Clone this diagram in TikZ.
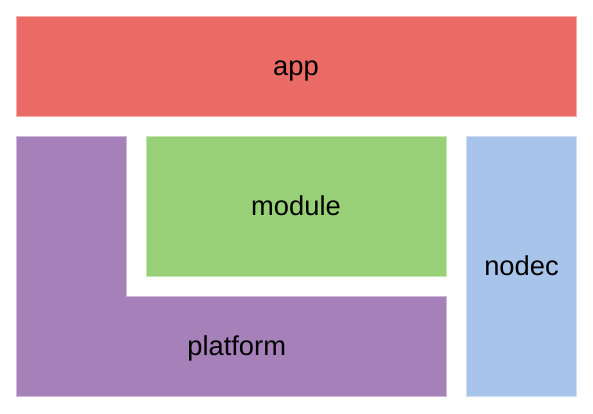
\documentclass[tikz,border=0pt]{standalone}
\usepackage{fontspec}
\setmainfont{Liberation Sans}
\definecolor{appc}{HTML}{EA6B66}
\definecolor{modc}{HTML}{97D077}
\definecolor{platc}{HTML}{A680B8}
\definecolor{nodc}{HTML}{A9C4EB}
\begin{document}
\begin{tikzpicture}[x=1pt,y=-1pt,
  blk/.style={line width=0.8pt},
  lbl/.style={font=\fontsize{27.3}{30}\selectfont, text=black, inner sep=0pt, anchor=base}]
\useasboundingbox (0,0) rectangle (593,413);
\fill[white] (0,0) rectangle (593,413);
\draw[blk, fill=appc, draw=appc!55!white] (16.5,16.5) rectangle (576.5,116.5);
\draw[blk, fill=platc, draw=platc!55!white] (16.5,136.5) -- (126.5,136.5) -- (126.5,296.5) -- (446.5,296.5) -- (446.5,396.5) -- (16.5,396.5) -- cycle;
\draw[blk, fill=modc, draw=modc!55!white] (146.5,136.5) rectangle (446.5,276.5);
\draw[blk, fill=nodc, draw=nodc!55!white] (466.5,136.5) rectangle (576.5,396.5);
\node[lbl] (app) at (296,75.3) {app};
\node[lbl] (module) at (296,215.3) {module};
\node[lbl] (platform) at (236.7,355.3) {platform};
\node[lbl] (nodec) at (521.5,275.3) {nodec};
\end{tikzpicture}
\end{document}
